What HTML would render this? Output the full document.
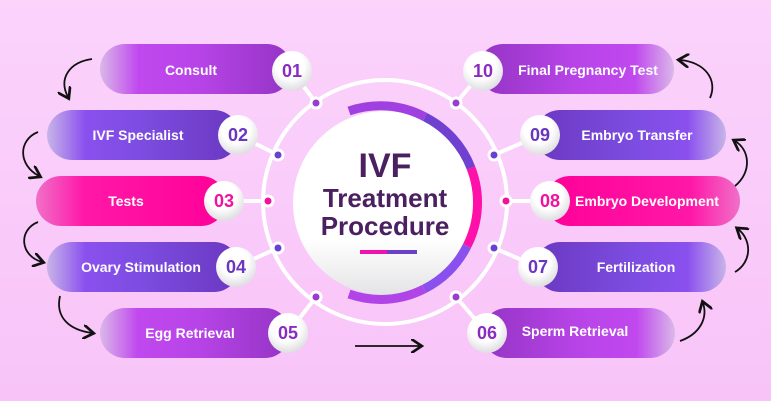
<!DOCTYPE html>
<html><head><meta charset="utf-8"><style>
html,body{margin:0;padding:0;width:771px;height:401px;overflow:hidden;background:#f9c9f9}
text{font-family:"Liberation Sans",sans-serif;font-weight:bold}
</style></head><body>
<svg width="771" height="401" viewBox="0 0 771 401" xmlns="http://www.w3.org/2000/svg">
<defs>
<linearGradient id="bg" x1="0" y1="0" x2="0" y2="1"><stop offset="0" stop-color="#fbd3fb"/><stop offset="1" stop-color="#f8c4f8"/></linearGradient>
<linearGradient id="gA" x1="0" x2="1"><stop offset="0" stop-color="#d9b8e8"/><stop offset="0.2" stop-color="#c048ee"/><stop offset="0.5" stop-color="#b844e8"/><stop offset="1" stop-color="#9434c4"/></linearGradient>
<linearGradient id="gB" x1="0" x2="1"><stop offset="0" stop-color="#c8b4e8"/><stop offset="0.2" stop-color="#8a50ee"/><stop offset="0.5" stop-color="#7c4ce0"/><stop offset="1" stop-color="#6a38c0"/></linearGradient>
<linearGradient id="gC" x1="0" x2="1"><stop offset="0" stop-color="#f070c8"/><stop offset="0.25" stop-color="#ff18a8"/><stop offset="1" stop-color="#ff0098"/></linearGradient>
<linearGradient id="gAr" x1="1" x2="0"><stop offset="0" stop-color="#d9b8e8"/><stop offset="0.2" stop-color="#c048ee"/><stop offset="0.5" stop-color="#b844e8"/><stop offset="1" stop-color="#9434c4"/></linearGradient>
<linearGradient id="gBr" x1="1" x2="0"><stop offset="0" stop-color="#c8b4e8"/><stop offset="0.2" stop-color="#8a50ee"/><stop offset="0.5" stop-color="#7c4ce0"/><stop offset="1" stop-color="#6a38c0"/></linearGradient>
<linearGradient id="gCr" x1="1" x2="0"><stop offset="0" stop-color="#f070c8"/><stop offset="0.25" stop-color="#ff18a8"/><stop offset="1" stop-color="#ff0098"/></linearGradient>
<radialGradient id="nc" cx="0.45" cy="0.35" r="0.7"><stop offset="0.5" stop-color="#ffffff"/><stop offset="1" stop-color="#d8d8dc"/></radialGradient>
<linearGradient id="cc" x1="0" y1="0" x2="0" y2="1"><stop offset="0.7" stop-color="#ffffff"/><stop offset="1" stop-color="#e4e4e6"/></linearGradient>
<marker id="ah" markerWidth="8" markerHeight="8" refX="5" refY="4" orient="auto"><path d="M0,0 L6,4 L0,8" fill="none" stroke="#111" stroke-width="1.5"/></marker>
</defs>
<rect width="771" height="401" fill="url(#bg)"/>
<circle cx="385" cy="202" r="122" fill="none" stroke="#fff" stroke-width="4"/>
<g stroke="#fff" stroke-width="4">
<line x1="292" y1="71" x2="316" y2="103"/><line x1="238" y1="135" x2="278" y2="155"/><line x1="224" y1="201" x2="268" y2="201"/><line x1="236" y1="267" x2="278" y2="248"/><line x1="288" y1="333" x2="316" y2="297"/>
<line x1="483" y1="71" x2="456" y2="103"/><line x1="540" y1="135" x2="494" y2="155"/><line x1="550" y1="201" x2="506" y2="201"/><line x1="538" y1="267" x2="494" y2="248"/><line x1="487" y1="333" x2="456" y2="297"/>
</g>
<rect x="100" y="44" width="192" height="50" rx="25" fill="url(#gA)"/>
<rect x="47" y="110" width="192" height="50" rx="25" fill="url(#gB)"/>
<rect x="36" y="176" width="190" height="50" rx="25" fill="url(#gC)"/>
<rect x="47" y="242" width="192" height="50" rx="25" fill="url(#gB)"/>
<rect x="100" y="308" width="190" height="50" rx="25" fill="url(#gA)"/>
<rect x="478" y="44" width="196" height="50" rx="25" fill="url(#gAr)"/>
<rect x="535" y="110" width="191" height="50" rx="25" fill="url(#gBr)"/>
<rect x="545" y="176" width="195" height="50" rx="25" fill="url(#gCr)"/>
<rect x="535" y="242" width="191" height="50" rx="25" fill="url(#gBr)"/>
<rect x="482" y="308" width="193" height="50" rx="25" fill="url(#gAr)"/>
<g fill="#fff" font-size="14" text-anchor="middle">
<text x="191" y="75">Consult</text>
<text x="138" y="140">IVF Specialist</text>
<text x="126" y="206">Tests</text>
<text x="141" y="272">Ovary Stimulation</text>
<text x="190" y="338">Egg Retrieval</text>
<text x="588" y="75">Final Pregnancy Test</text>
<text x="637" y="140">Embryo Transfer</text>
<text x="647" y="206">Embryo Development</text>
<text x="636" y="272">Fertilization</text>
<text x="575" y="336">Sperm Retrieval</text>
</g>
<g fill="url(#nc)">
<circle cx="292" cy="71" r="20"/><circle cx="238" cy="135" r="20"/><circle cx="224" cy="201" r="20"/><circle cx="236" cy="267" r="20"/><circle cx="288" cy="333" r="20"/>
<circle cx="483" cy="71" r="20"/><circle cx="540" cy="135" r="20"/><circle cx="550" cy="201" r="20"/><circle cx="538" cy="267" r="20"/><circle cx="487" cy="333" r="20"/>
</g>
<g font-size="18" text-anchor="middle">
<text x="292" y="77" fill="#8a2cc0">01</text><text x="238" y="141" fill="#6a36c0">02</text><text x="224" y="207" fill="#f0129e">03</text><text x="236" y="273" fill="#6a36c0">04</text><text x="288" y="339" fill="#8a2cc0">05</text>
<text x="483" y="77" fill="#8a2cc0">10</text><text x="540" y="141" fill="#6a36c0">09</text><text x="550" y="207" fill="#f0129e">08</text><text x="538" y="273" fill="#6a36c0">07</text><text x="487" y="339" fill="#8a2cc0">06</text>
</g>
<g stroke="#fff" stroke-width="3">
<circle cx="316" cy="103" r="5" fill="#9a3cd0"/><circle cx="278" cy="155" r="5" fill="#6a40d0"/><circle cx="268" cy="201" r="5" fill="#f0129e"/><circle cx="278" cy="248" r="5" fill="#6a40d0"/><circle cx="316" cy="297" r="5" fill="#9a3cd0"/>
<circle cx="456" cy="103" r="5" fill="#9a3cd0"/><circle cx="494" cy="155" r="5" fill="#6a40d0"/><circle cx="506" cy="201" r="5" fill="#f0129e"/><circle cx="494" cy="248" r="5" fill="#6a40d0"/><circle cx="456" cy="297" r="5" fill="#9a3cd0"/>
</g>
<circle cx="385" cy="203" r="92" fill="url(#cc)"/>
<g fill="none" stroke-width="9">
<path d="M349,111 A95,95 0 0 1 425,117" stroke="#a040e0"/>
<path d="M425,117 A95,95 0 0 1 471,168" stroke="#7040d0"/>
<path d="M471,168 A95,95 0 0 1 467,246" stroke="#ff10a8"/>
<path d="M467,246 A95,95 0 0 1 424,289" stroke="#8a50ee"/>
<path d="M424,289 A95,95 0 0 1 349,294" stroke="#b044e6"/>
</g>
<g fill="#4a2060" text-anchor="middle">
<text x="385" y="177" font-size="34">IVF</text>
<text x="385" y="207" font-size="26">Treatment</text>
<text x="385" y="235" font-size="26">Procedure</text>
</g>
<rect x="360" y="250" width="27" height="4" fill="#f012b0"/><rect x="387" y="250" width="30" height="4" fill="#6a40c8"/>
<g fill="none" stroke="#111" stroke-width="1.8" marker-end="url(#ah)">
<path d="M92,59 C70,62 58,78 68,97"/>
<path d="M38,132 C18,140 18,165 39,176"/>
<path d="M38,222 C18,230 20,256 42,262"/>
<path d="M60,296 C55,318 70,330 92,333"/>
<path d="M355,346 L420,346"/>
<path d="M680,341 C700,334 708,318 703,303"/>
<path d="M735,272 C752,262 752,240 738,229"/>
<path d="M735,186 C752,172 750,150 735,141"/>
<path d="M710,98 C718,80 705,62 680,60"/>
</g>
</svg>
</body></html>
